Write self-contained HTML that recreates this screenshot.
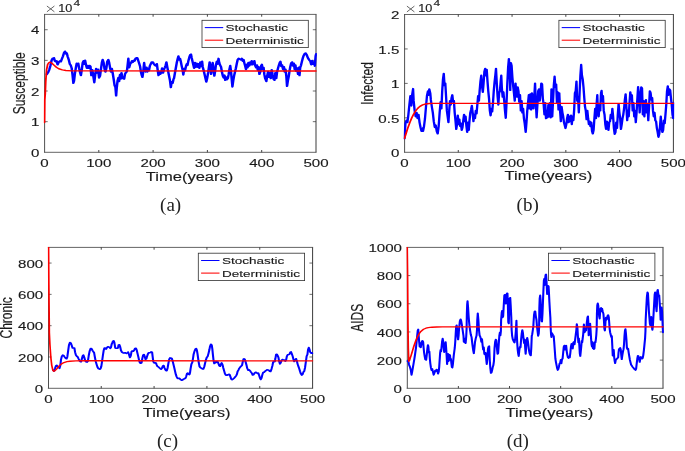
<!DOCTYPE html>
<html><head><meta charset="utf-8"><title>Figure</title>
<style>html,body{margin:0;padding:0;background:#fff;}svg{display:block;}</style></head>
<body>
<svg width="685" height="451" viewBox="0 0 685 451">
<rect x="0" y="0" width="685" height="451" fill="#ffffff"/>
<g id="plot-a">
<clipPath id="clip-a"><rect x="43.60" y="14.00" width="273.30" height="138.70"/></clipPath>
<g stroke="#303030" fill="none">
<line x1="44.0" y1="14.4" x2="316.5" y2="14.4" stroke-width="0.75"/>
<line x1="44.0" y1="152.3" x2="316.5" y2="152.3" stroke-width="0.75"/>
<line x1="44.6" y1="14.4" x2="44.6" y2="152.3" stroke-width="0.85"/>
<line x1="316.0" y1="14.4" x2="316.0" y2="152.3" stroke-width="0.95"/>
<line x1="98.80" y1="152.3" x2="98.80" y2="150.00" stroke-width="0.9"/>
<line x1="98.80" y1="14.4" x2="98.80" y2="16.70" stroke-width="0.9"/>
<line x1="153.10" y1="152.3" x2="153.10" y2="150.00" stroke-width="0.9"/>
<line x1="153.10" y1="14.4" x2="153.10" y2="16.70" stroke-width="0.9"/>
<line x1="207.40" y1="152.3" x2="207.40" y2="150.00" stroke-width="0.9"/>
<line x1="207.40" y1="14.4" x2="207.40" y2="16.70" stroke-width="0.9"/>
<line x1="261.70" y1="152.3" x2="261.70" y2="150.00" stroke-width="0.9"/>
<line x1="261.70" y1="14.4" x2="261.70" y2="16.70" stroke-width="0.9"/>
<line x1="44.5" y1="121.66" x2="47.70" y2="121.66" stroke-width="0.7"/>
<line x1="316.0" y1="121.66" x2="312.80" y2="121.66" stroke-width="0.7"/>
<line x1="44.5" y1="91.01" x2="47.70" y2="91.01" stroke-width="0.7"/>
<line x1="316.0" y1="91.01" x2="312.80" y2="91.01" stroke-width="0.7"/>
<line x1="44.5" y1="60.37" x2="47.70" y2="60.37" stroke-width="0.7"/>
<line x1="316.0" y1="60.37" x2="312.80" y2="60.37" stroke-width="0.7"/>
<line x1="44.5" y1="29.72" x2="47.70" y2="29.72" stroke-width="0.7"/>
<line x1="316.0" y1="29.72" x2="312.80" y2="29.72" stroke-width="0.7"/>
</g>
<g clip-path="url(#clip-a)" fill="none" stroke-linejoin="round" stroke-linecap="round">
<g transform="scale(1.3,1)"><path d="M35.99,74.25L36.91,72.57L37.83,69.94L38.75,65.75L39.68,60.36L40.41,58.57L41.05,59.17L41.52,57.97L42.25,60.96L42.89,61.56L43.54,60.96L44.28,64.55L45.20,62.16L46.12,60.96L46.85,61.56L47.50,59.17L48.42,56.17L49.34,52.58L49.98,51.39L50.72,53.78L51.37,53.18L52.10,56.77L53.02,60.36L53.67,63.95L54.41,65.15L55.14,68.14L55.78,74.73L56.43,83.10L56.98,80.71L57.62,73.53L58.36,67.54L59.01,63.35L59.65,65.15L60.21,63.35L60.85,68.14L61.58,72.33L62.23,75.32L62.88,69.94L63.61,62.76L64.25,60.96L64.72,63.95L65.45,60.36L66.19,65.15L66.83,68.14L67.57,65.75L68.22,68.14L68.95,65.75L69.59,66.35L70.24,75.32L70.98,69.94L71.62,74.73L72.54,82.51L73.28,74.13L73.92,68.74L74.66,72.93L75.39,69.34L76.22,77.72L76.96,75.92L77.70,68.74L78.34,62.76L78.98,59.76L79.72,62.76L80.37,68.74L81.11,71.73L81.84,68.14L82.48,61.56L83.35,59.76L84.00,62.76L84.73,68.14L85.38,71.73L86.02,68.74L86.76,73.53L87.50,79.51L88.14,85.50L88.78,87.29L89.34,95.67L89.80,87.89L90.45,80.71L91.08,77.72L91.64,81.31L92.28,74.73L92.93,78.91L93.48,72.93L94.12,78.32L94.86,77.12L95.51,78.91L96.15,74.13L96.88,72.33L97.53,71.73L98.08,66.35L98.73,58.57L99.37,67.54L100.11,63.95L100.85,62.76L101.49,60.96L102.14,62.16L102.87,60.36L103.52,60.96L104.25,58.57L104.99,57.97L105.63,57.97L106.28,60.36L107.02,63.35L107.75,66.35L108.39,71.73L109.04,75.32L109.59,77.12L110.24,71.13L110.88,62.76L111.43,68.74L112.08,71.73L112.72,67.54L113.28,71.73L113.92,68.74L114.56,70.54L115.30,65.75L116.04,63.95L116.68,62.16L117.60,62.16L118.34,63.95L119.17,65.15L119.91,65.75L120.64,63.95L121.28,69.94L121.93,75.32L122.67,71.73L123.31,74.13L124.05,72.33L124.69,68.14L125.43,72.93L126.16,69.34L126.81,67.54L127.45,65.15L128.01,62.16L128.65,66.95L129.38,71.73L130.03,75.92L130.77,80.71L131.42,87.29L132.05,81.91L132.79,83.10L133.53,78.91L133.85,78.32L134.58,72.93L135.23,68.14L135.96,62.76L136.61,59.17L137.25,56.17L137.81,59.76L138.45,58.57L139.09,61.56L139.83,66.35L140.48,69.94L141.03,74.73L141.67,68.74L142.32,70.54L143.05,66.35L143.70,63.95L144.25,65.15L144.89,60.96L145.63,57.37L146.28,54.98L146.92,54.38L147.47,57.97L148.12,61.56L148.76,65.15L149.32,68.14L149.96,62.76L150.69,66.95L151.34,63.35L151.98,66.95L152.72,63.95L153.36,68.14L154.10,62.16L154.75,66.35L155.48,61.56L155.95,66.95L156.68,70.54L157.32,74.13L157.97,77.72L158.71,81.91L159.35,78.32L160.08,72.93L160.73,66.95L161.28,62.16L161.93,68.14L162.38,74.13L163.03,67.54L163.58,62.76L164.23,69.34L164.88,75.92L165.42,71.73L166.07,65.15L166.81,61.56L167.45,63.95L168.09,58.57L168.65,62.76L169.29,65.15L170.03,66.95L170.68,71.73L171.41,75.92L172.05,77.72L172.70,75.32L173.25,80.11L173.89,77.12L174.54,79.51L175.28,78.32L175.92,74.13L176.48,69.34L177.12,65.75L177.67,71.13L178.22,78.91L178.78,86.69L179.42,80.71L180.06,75.92L180.80,71.73L181.45,68.14L182.18,63.35L182.82,59.76L183.56,58.57L184.30,59.17L184.62,59.17L185.35,59.76L186.00,58.57L186.73,60.96L187.38,59.76L188.02,63.35L188.58,65.75L189.22,69.34L189.86,64.55L190.42,67.54L191.06,62.76L191.71,65.75L192.44,62.16L193.08,64.55L193.64,60.96L194.28,64.55L194.93,62.76L195.66,60.96L196.31,65.75L197.05,67.54L197.69,65.15L198.24,69.94L198.88,66.95L199.53,74.13L200.27,71.73L200.91,65.75L201.46,64.55L202.11,69.34L202.75,67.54L203.31,74.13L203.95,78.32L204.87,81.31L205.52,75.92L206.25,71.73L206.89,77.12L207.63,72.93L208.28,78.32L209.02,69.94L209.66,74.73L210.39,78.91L211.13,80.11L211.78,72.93L212.52,78.32L213.15,71.73L213.89,68.14L214.54,65.15L215.18,62.76L215.73,61.56L216.38,66.35L217.02,65.15L217.76,69.34L218.41,66.95L218.95,71.73L219.60,69.34L220.25,75.92L220.80,86.10L221.45,80.71L222.08,76.52L222.64,71.73L223.28,66.95L223.93,63.35L224.66,62.16L225.31,65.75L226.05,63.35L226.69,69.34L227.25,65.15L227.88,71.13L228.53,68.14L229.27,74.13L229.92,67.54L230.38,75.32L230.92,67.54L231.57,65.15L232.22,61.56L232.95,57.97L233.59,55.58L234.33,53.78L235.07,53.18L235.85,54.63L236.87,57.95L237.89,59.95L238.71,61.28L239.42,64.60L240.14,60.61L240.95,63.94L241.68,61.94L242.18,65.93L242.80,55.96L243.21,53.96" stroke="#0000ff" stroke-width="1.9"/></g>
<g transform="scale(1.3,1)"><path d="M34.24,122.60L34.42,99.98L34.79,93.88L35.16,81.91L35.81,69.94L36.64,64.55L37.55,62.76L38.48,62.16L39.68,63.00L41.52,65.15L43.35,67.30L45.20,68.74L47.96,69.94L50.72,70.54L55.32,70.90L69.14,70.90L243.08,70.95" stroke="#ff0000" stroke-width="1.4"/></g>
</g>
<rect x="202.0" y="20.3" width="106.30" height="27.30" fill="#ffffff" stroke="#303030" stroke-width="0.8"/>
<line x1="204.80" y1="27.60" x2="223.20" y2="27.60" stroke="#0000ff" stroke-width="1.05"/>
<line x1="204.80" y1="40.20" x2="223.20" y2="40.20" stroke="#ff0000" stroke-width="1.05"/>
</g>
<g id="plot-b">
<clipPath id="clip-b"><rect x="403.60" y="14.10" width="270.70" height="138.60"/></clipPath>
<g stroke="#303030" fill="none">
<line x1="404.0" y1="14.5" x2="673.9" y2="14.5" stroke-width="0.75"/>
<line x1="404.0" y1="152.3" x2="673.9" y2="152.3" stroke-width="0.75"/>
<line x1="404.6" y1="14.5" x2="404.6" y2="152.3" stroke-width="0.85"/>
<line x1="673.4" y1="14.5" x2="673.4" y2="152.3" stroke-width="0.95"/>
<line x1="458.28" y1="152.3" x2="458.28" y2="150.00" stroke-width="0.9"/>
<line x1="458.28" y1="14.5" x2="458.28" y2="16.80" stroke-width="0.9"/>
<line x1="512.06" y1="152.3" x2="512.06" y2="150.00" stroke-width="0.9"/>
<line x1="512.06" y1="14.5" x2="512.06" y2="16.80" stroke-width="0.9"/>
<line x1="565.84" y1="152.3" x2="565.84" y2="150.00" stroke-width="0.9"/>
<line x1="565.84" y1="14.5" x2="565.84" y2="16.80" stroke-width="0.9"/>
<line x1="619.62" y1="152.3" x2="619.62" y2="150.00" stroke-width="0.9"/>
<line x1="619.62" y1="14.5" x2="619.62" y2="16.80" stroke-width="0.9"/>
<line x1="404.5" y1="117.85" x2="407.70" y2="117.85" stroke-width="0.7"/>
<line x1="673.4" y1="117.85" x2="670.20" y2="117.85" stroke-width="0.7"/>
<line x1="404.5" y1="83.40" x2="407.70" y2="83.40" stroke-width="0.7"/>
<line x1="673.4" y1="83.40" x2="670.20" y2="83.40" stroke-width="0.7"/>
<line x1="404.5" y1="48.95" x2="407.70" y2="48.95" stroke-width="0.7"/>
<line x1="673.4" y1="48.95" x2="670.20" y2="48.95" stroke-width="0.7"/>
</g>
<g clip-path="url(#clip-b)" fill="none" stroke-linejoin="round" stroke-linecap="round">
<g transform="scale(1.3,1)"><path d="M311.15,138.38L311.45,132.12L311.90,123.34L312.65,120.41L313.40,122.36L314.15,114.55L314.91,104.78L315.65,95.99L316.41,105.76L317.01,95.02L317.76,88.77L318.21,100.88L318.96,110.64L319.71,116.50L320.46,112.59L321.22,118.45L321.96,114.55L322.72,122.36L323.47,127.24L324.22,131.15L324.97,128.22L325.42,131.15L326.17,126.27L326.92,118.45L327.68,106.73L328.42,95.99L329.18,91.11L329.78,95.02L330.23,89.16L330.98,93.06L331.43,99.90L332.18,106.73L332.93,112.59L333.68,121.38L334.44,127.24L335.18,125.29L335.94,131.15L336.69,133.69L337.44,126.27L338.19,112.59L338.94,101.85L339.55,108.69L340.15,91.11L340.75,79.39L341.35,73.53L341.95,85.25L342.55,83.30L343.15,96.97L343.75,110.64L344.35,116.50L344.95,122.36L345.55,110.64L346.15,100.88L346.75,104.78L347.35,97.95L347.95,95.02L348.55,101.85L349.16,100.88L349.76,112.59L350.36,120.41L350.96,129.20L351.56,124.31L352.16,115.52L352.76,124.31L353.37,119.43L353.97,126.27L354.57,123.34L355.17,130.17L355.77,127.24L356.37,120.41L356.97,114.55L357.57,121.38L358.17,116.50L358.78,126.27L359.38,132.12L359.98,122.36L360.58,130.17L361.18,120.41L361.78,112.59L362.38,109.66L362.98,105.76L363.58,112.59L364.18,121.38L364.78,114.55L365.38,118.45L365.98,110.64L366.58,113.57L367.18,104.78L367.78,95.99L368.39,100.88L368.99,90.13L369.59,81.34L370.19,75.48L370.79,86.23L371.39,92.09L371.99,83.30L372.60,71.58L373.20,68.65L373.80,75.48L374.40,69.62L375.00,81.34L375.60,91.11L376.20,98.92L376.80,110.64L377.40,115.52L378.01,108.69L378.61,111.62L379.21,102.83L379.81,91.11L380.41,82.32L381.01,75.48L381.54,68.65L382.14,83.30L382.74,95.99L383.34,104.78L383.94,93.06L384.55,91.11L385.15,81.34L385.59,75.48L386.05,88.18L386.65,96.97L387.25,92.09L387.85,100.88L388.45,110.64L389.05,118.06L389.65,102.83L390.25,83.30L390.85,67.67L391.45,58.88L392.05,69.62L392.51,90.13L392.95,62.79L393.55,65.72L394.16,77.44L394.76,86.23L395.36,93.06L395.96,100.88L396.56,83.30L397.16,93.06L397.76,96.97L398.22,87.20L398.82,91.11L399.42,101.85L400.02,95.02L400.62,110.64L401.22,100.88L401.82,112.59L402.42,108.69L403.02,118.45L403.62,123.34L404.38,132.12L404.98,122.36L405.58,110.64L406.18,102.83L406.78,95.02L407.38,108.69L407.98,94.04L408.58,109.66L409.18,93.06L409.78,100.88L410.38,108.69L410.98,96.97L411.58,83.30L412.18,102.83L412.78,117.48L413.39,104.78L413.99,91.11L414.59,89.16L415.19,100.88L415.79,93.06L416.39,83.30L416.99,84.27L417.60,98.92L418.20,104.78L418.80,114.55L419.40,102.83L420.00,118.45L420.60,110.64L421.20,117.48L421.80,104.78L422.40,116.50L423.01,102.83L423.61,117.48L424.21,89.16L424.81,116.50L425.41,100.88L426.01,85.25L426.61,76.46L427.22,87.20L427.82,84.27L428.42,102.83L429.02,92.09L429.62,109.66L430.22,93.06L430.82,110.64L431.42,121.38L432.02,106.73L432.62,112.59L433.22,116.50L433.82,122.36L434.42,125.29L435.02,128.22L435.62,124.31L436.22,118.45L436.83,114.55L437.43,122.36L438.03,116.50L438.63,121.38L439.23,115.52L439.83,124.31L440.43,116.50L441.03,120.41L441.63,110.64L442.24,93.06L442.84,91.11L443.44,81.34L444.04,100.88L444.64,96.97L445.24,112.59L445.84,93.06L446.45,75.48L447.05,64.74L447.65,75.48L448.25,79.39L448.85,87.20L449.45,97.95L450.00,106.73L450.60,110.64L451.20,119.43L451.80,110.64L452.40,118.45L453.01,124.31L453.61,121.38L454.21,126.27L454.81,122.36L455.41,131.15L456.01,133.69L456.61,130.17L457.22,118.45L457.82,108.69L458.42,118.45L459.02,102.83L459.46,95.02L459.92,112.59L460.52,116.50L461.12,104.78L461.72,110.64L462.32,93.06L462.77,90.72L463.22,100.88L463.82,95.99L464.42,110.64L465.02,114.55L465.62,124.31L466.22,129.20L466.83,121.38L467.43,124.31L468.03,130.17L468.63,122.36L469.23,121.38L469.83,114.55L470.43,118.45L471.03,108.69L471.63,116.50L472.24,128.22L472.84,134.08L473.44,132.12L474.04,122.36L474.64,128.22L475.24,114.55L475.84,103.80L476.45,112.59L477.05,118.45L477.65,129.20L478.25,124.31L478.85,118.45L479.45,114.55L480.05,108.69L480.65,99.90L481.25,94.04L481.85,106.73L482.45,120.41L483.05,110.64L483.65,116.50L484.25,102.83L484.85,92.09L485.45,97.95L486.06,95.02L486.66,110.64L487.26,102.83L487.86,116.50L488.46,110.64L489.06,122.36L489.66,112.59L490.26,98.92L490.86,86.81L491.47,98.92L492.07,112.59L492.67,95.02L493.27,87.20L493.87,88.18L494.47,114.55L495.07,100.88L495.68,116.50L496.28,102.83L496.88,99.90L497.48,112.59L498.08,104.78L498.68,120.41L499.28,106.73L499.88,91.11L500.48,93.06L501.08,99.90L501.68,97.95L502.28,110.64L502.88,116.50L503.48,112.59L504.08,120.41L504.68,121.38L505.29,128.22L505.89,132.12L506.49,137.01L507.09,134.08L507.69,126.27L508.29,116.50L508.89,126.27L509.49,132.12L510.09,130.17L510.70,120.41L511.30,123.34L511.90,114.55L512.50,104.78L513.10,91.11L513.70,86.23L514.30,95.02L514.91,89.16L515.51,90.13L516.11,97.95L516.71,104.78L517.31,114.55L517.91,118.45L518.06,102.83" stroke="#0000ff" stroke-width="1.8"/></g>
<g transform="scale(1.3,1)"><path d="M311.15,138.40L312.23,134.00L313.54,128.60L315.23,122.60L316.69,118.00L318.15,114.20L319.69,111.00L321.23,108.50L322.77,106.60L325.08,104.90L327.38,104.00L330.23,103.50L333.08,103.40L518.00,103.40" stroke="#ff0000" stroke-width="1.4"/></g>
</g>
<rect x="558.9" y="20.3" width="106.30" height="27.30" fill="#ffffff" stroke="#303030" stroke-width="0.8"/>
<line x1="561.70" y1="27.60" x2="580.10" y2="27.60" stroke="#0000ff" stroke-width="1.05"/>
<line x1="561.70" y1="40.20" x2="580.10" y2="40.20" stroke="#ff0000" stroke-width="1.05"/>
</g>
<g id="plot-c">
<clipPath id="clip-c"><rect x="47.50" y="247.00" width="266.00" height="141.70"/></clipPath>
<g stroke="#303030" fill="none">
<line x1="47.9" y1="247.4" x2="313.1" y2="247.4" stroke-width="0.75"/>
<line x1="47.9" y1="388.3" x2="313.1" y2="388.3" stroke-width="0.75"/>
<line x1="48.5" y1="247.4" x2="48.5" y2="388.3" stroke-width="0.85"/>
<line x1="312.6" y1="247.4" x2="312.6" y2="388.3" stroke-width="0.95"/>
<line x1="101.24" y1="388.3" x2="101.24" y2="386.00" stroke-width="0.9"/>
<line x1="101.24" y1="247.4" x2="101.24" y2="249.70" stroke-width="0.9"/>
<line x1="154.08" y1="388.3" x2="154.08" y2="386.00" stroke-width="0.9"/>
<line x1="154.08" y1="247.4" x2="154.08" y2="249.70" stroke-width="0.9"/>
<line x1="206.92" y1="388.3" x2="206.92" y2="386.00" stroke-width="0.9"/>
<line x1="206.92" y1="247.4" x2="206.92" y2="249.70" stroke-width="0.9"/>
<line x1="259.76" y1="388.3" x2="259.76" y2="386.00" stroke-width="0.9"/>
<line x1="259.76" y1="247.4" x2="259.76" y2="249.70" stroke-width="0.9"/>
<line x1="48.4" y1="356.99" x2="51.60" y2="356.99" stroke-width="0.7"/>
<line x1="312.6" y1="356.99" x2="309.40" y2="356.99" stroke-width="0.7"/>
<line x1="48.4" y1="325.68" x2="51.60" y2="325.68" stroke-width="0.7"/>
<line x1="312.6" y1="325.68" x2="309.40" y2="325.68" stroke-width="0.7"/>
<line x1="48.4" y1="294.37" x2="51.60" y2="294.37" stroke-width="0.7"/>
<line x1="312.6" y1="294.37" x2="309.40" y2="294.37" stroke-width="0.7"/>
<line x1="48.4" y1="263.06" x2="51.60" y2="263.06" stroke-width="0.7"/>
<line x1="312.6" y1="263.06" x2="309.40" y2="263.06" stroke-width="0.7"/>
</g>
<g clip-path="url(#clip-c)" fill="none" stroke-linejoin="round" stroke-linecap="round">
<g transform="scale(1.3,1)"><path d="M40.91,370.34L41.46,371.06L42.29,368.55L43.02,365.91L43.67,365.32L44.32,366.51L45.05,367.11L45.78,368.31L46.43,365.32L46.89,359.93L47.54,356.34L48.28,355.14L49.01,355.74L49.65,356.94L50.39,358.13L51.22,358.73L51.77,356.94L52.42,350.95L53.06,344.97L53.80,342.58L54.54,343.17L55.18,345.57L55.82,347.96L56.56,347.96L57.21,347.96L57.75,352.15L58.40,355.14L59.14,356.34L59.78,356.94L60.43,358.73L61.16,360.53L61.81,361.73L62.36,361.73L63.01,358.73L63.65,355.74L64.20,355.14L64.85,357.54L65.49,360.53L66.23,361.73L66.96,362.08L67.61,361.13L68.25,355.74L68.99,350.95L69.72,348.56L70.37,348.56L71.11,350.35L71.75,351.55L72.39,352.75L72.95,356.94L73.59,361.13L74.24,364.12L74.98,367.11L75.71,368.67L76.54,369.15L77.28,368.91L77.92,366.51L78.47,361.73L79.12,355.74L79.76,350.35L80.32,347.96L80.96,347.96L81.60,349.16L82.15,347.96L82.80,346.76L83.45,346.76L84.18,347.36L84.82,348.32L85.38,347.36L85.93,343.77L86.15,343.77L86.80,341.38L87.45,340.78L87.99,342.58L88.64,347.96L89.38,348.32L90.12,348.20L90.75,347.96L91.22,344.97L91.86,344.73L92.42,346.76L93.06,350.35L93.79,352.15L94.62,352.75L95.36,353.11L96.28,352.75L97.20,353.35L97.94,352.75L98.58,352.15L99.23,354.54L99.96,357.54L100.61,355.74L101.16,351.55L101.81,350.95L102.54,351.19L103.18,350.35L103.83,348.56L104.57,348.32L105.22,350.35L105.76,353.35L106.41,356.94L107.05,360.53L107.61,362.92L108.25,363.28L108.89,362.92L109.45,358.73L110.09,355.14L110.74,354.54L111.29,356.34L111.93,359.33L112.58,358.73L113.13,356.34L113.78,353.95L114.42,352.75L115.15,352.75L115.80,352.39L116.35,351.91L117.00,352.15L117.45,356.94L117.92,361.73L118.56,362.92L119.30,362.68L119.95,362.92L120.49,364.72L121.14,366.51L121.88,366.87L122.52,367.71L123.25,368.55L123.90,369.15L124.55,368.31L125.28,365.91L125.93,365.56L126.48,367.71L127.12,369.51L127.77,370.70L128.32,370.70L128.97,367.71L129.61,362.92L130.16,359.33L130.81,357.90L131.55,358.13L132.18,358.49L132.83,361.13L133.38,364.12L134.03,367.71L134.68,371.30L135.22,374.29L135.87,376.69L136.61,378.48L136.92,378.48L137.66,378.24L138.31,378.72L139.04,379.68L139.68,380.28L140.42,379.92L141.25,379.08L141.98,378.72L142.63,378.24L143.18,376.69L143.83,373.69L144.47,373.10L145.02,374.29L145.67,374.65L146.13,373.10L146.59,368.91L147.24,364.12L147.97,362.32L148.43,358.73L148.89,354.54L149.54,351.55L150.27,349.16L150.92,348.56L151.47,350.35L151.93,353.95L152.39,358.13L152.85,362.32L153.49,366.51L154.23,367.71L155.06,368.31L155.80,368.91L156.44,368.91L157.18,366.51L157.82,362.92L158.38,359.93L159.02,357.54L159.75,356.34L160.40,353.35L161.05,349.76L161.60,346.17L162.24,344.37L162.88,344.97L163.35,349.16L163.81,355.14L164.27,360.53L164.82,363.52L165.46,362.92L166.11,361.73L166.85,362.32L167.49,361.73L168.04,363.52L168.68,365.91L169.33,366.27L169.88,364.36L170.53,362.92L171.17,364.72L171.72,367.71L172.37,370.70L173.02,373.69L173.75,375.13L174.48,375.13L175.32,374.89L176.05,374.29L176.70,374.65L177.25,376.69L177.89,379.08L178.54,379.68L179.28,379.08L180.01,378.24L180.84,377.05L181.58,375.85L182.22,374.29L182.78,371.30L183.42,370.10L184.06,368.31L184.80,367.11L185.45,366.27L186.18,365.32L186.64,362.32L187.28,359.09L187.69,358.73L188.34,359.33L188.89,361.73L189.53,364.72L190.18,368.31L190.92,370.10L191.56,369.86L192.29,370.70L192.94,371.90L193.68,373.10L194.32,374.89L195.06,374.65L195.79,373.10L196.62,372.26L197.36,372.74L198.09,373.45L198.74,373.10L199.38,375.49L199.94,377.88L200.58,379.44L201.22,377.88L201.78,374.89L202.42,372.50L203.16,372.26L203.81,371.30L204.54,370.70L205.37,369.86L206.11,370.10L206.85,370.34L207.48,371.30L208.13,371.54L208.87,368.91L209.52,365.91L210.06,362.32L210.71,361.37L211.35,361.73L211.82,358.73L212.37,354.54L213.01,354.30L213.65,355.74L214.21,357.54L214.67,361.13L215.32,363.88L215.95,362.92L216.51,360.53L217.15,359.57L217.89,359.81L218.72,359.93L219.45,361.13L220.10,359.93L220.65,356.34L221.30,354.78L222.03,354.54L222.68,354.30L223.32,352.15L223.88,351.91L224.52,353.95L225.16,356.34L225.72,359.33L226.36,361.49L227.01,359.93L227.74,358.73L228.38,361.13L228.94,364.12L229.58,366.51L230.23,368.91L230.78,371.30L231.42,373.69L232.16,375.13L232.81,374.29L233.45,371.90L234.00,371.30L234.65,367.71L235.29,361.73L235.85,356.34L236.49,354.54L236.95,349.76L237.50,347.60L238.05,349.16L238.61,352.15L239.25,353.11L239.98,352.75L240.26,353.35" stroke="#0000ff" stroke-width="1.6"/></g>
<g transform="scale(1.3,1)"><path d="M37.32,237.25L37.59,285.12L37.96,333.00L38.42,344.97L39.07,356.94L39.81,365.32L40.63,370.10L41.46,371.30L42.29,370.70L43.67,368.91L45.52,365.91L47.35,363.88L49.19,362.56L51.50,361.73L53.80,361.25L58.40,360.89L63.01,360.77L81.42,360.77L240.46,360.80" stroke="#ff0000" stroke-width="1.3"/></g>
</g>
<rect x="198.3" y="253.2" width="106.30" height="27.40" fill="#ffffff" stroke="#303030" stroke-width="0.8"/>
<line x1="201.10" y1="260.50" x2="219.50" y2="260.50" stroke="#0000ff" stroke-width="1.05"/>
<line x1="201.10" y1="273.10" x2="219.50" y2="273.10" stroke="#ff0000" stroke-width="1.05"/>
</g>
<g id="plot-d">
<clipPath id="clip-d"><rect x="406.30" y="247.00" width="257.60" height="141.70"/></clipPath>
<g stroke="#303030" fill="none">
<line x1="406.7" y1="247.4" x2="663.5" y2="247.4" stroke-width="0.75"/>
<line x1="406.7" y1="388.3" x2="663.5" y2="388.3" stroke-width="0.75"/>
<line x1="407.3" y1="247.4" x2="407.3" y2="388.3" stroke-width="0.85"/>
<line x1="663.0" y1="247.4" x2="663.0" y2="388.3" stroke-width="0.95"/>
<line x1="458.36" y1="388.3" x2="458.36" y2="386.00" stroke-width="0.9"/>
<line x1="458.36" y1="247.4" x2="458.36" y2="249.70" stroke-width="0.9"/>
<line x1="509.52" y1="388.3" x2="509.52" y2="386.00" stroke-width="0.9"/>
<line x1="509.52" y1="247.4" x2="509.52" y2="249.70" stroke-width="0.9"/>
<line x1="560.68" y1="388.3" x2="560.68" y2="386.00" stroke-width="0.9"/>
<line x1="560.68" y1="247.4" x2="560.68" y2="249.70" stroke-width="0.9"/>
<line x1="611.84" y1="388.3" x2="611.84" y2="386.00" stroke-width="0.9"/>
<line x1="611.84" y1="247.4" x2="611.84" y2="249.70" stroke-width="0.9"/>
<line x1="407.2" y1="360.12" x2="410.40" y2="360.12" stroke-width="0.7"/>
<line x1="663.0" y1="360.12" x2="659.80" y2="360.12" stroke-width="0.7"/>
<line x1="407.2" y1="331.94" x2="410.40" y2="331.94" stroke-width="0.7"/>
<line x1="663.0" y1="331.94" x2="659.80" y2="331.94" stroke-width="0.7"/>
<line x1="407.2" y1="303.76" x2="410.40" y2="303.76" stroke-width="0.7"/>
<line x1="663.0" y1="303.76" x2="659.80" y2="303.76" stroke-width="0.7"/>
<line x1="407.2" y1="275.58" x2="410.40" y2="275.58" stroke-width="0.7"/>
<line x1="663.0" y1="275.58" x2="659.80" y2="275.58" stroke-width="0.7"/>
</g>
<g clip-path="url(#clip-d)" fill="none" stroke-linejoin="round" stroke-linecap="round">
<g transform="scale(1.3,1)"><path d="M313.31,361.10L314.08,361.10L314.64,364.69L315.37,367.09L316.02,370.08L316.57,374.87L317.03,371.88L317.49,368.28L318.14,363.50L318.78,358.71L319.33,353.92L319.98,347.94L320.44,341.95L320.90,335.97L321.35,330.58L321.72,329.39L322.09,335.97L322.46,341.95L322.83,346.74L323.29,343.15L323.66,347.34L324.12,344.35L324.58,341.35L325.04,340.76L325.50,341.95L325.87,347.94L326.24,352.73L326.70,356.32L327.15,359.31L327.80,359.91L328.26,355.12L328.72,349.13L329.18,344.95L329.55,346.74L329.92,352.73L330.28,351.53L330.65,358.71L331.02,363.50L331.48,367.69L331.95,370.08L332.50,368.88L333.05,371.88L333.60,374.87L334.15,373.07L334.71,370.68L335.26,371.28L335.82,369.48L336.36,370.08L336.92,373.67L337.47,371.88L337.84,367.09L338.21,359.91L338.58,352.73L338.94,349.73L339.31,351.53L339.68,346.74L340.05,341.95L340.51,338.60L340.97,341.95L341.34,347.94L341.71,352.13L342.07,350.33L342.44,344.35L342.81,341.95L343.18,347.94L343.55,355.12L343.92,364.10L344.28,358.71L344.65,353.92L345.02,361.10L345.38,354.52L345.75,359.91L346.12,355.12L346.49,359.91L346.86,358.71L347.23,363.50L347.60,367.09L347.96,367.69L348.33,364.69L348.70,359.91L349.07,355.12L349.44,351.53L349.81,347.94L350.18,341.95L350.55,333.58L350.91,326.39L351.28,325.20L351.65,329.98L352.02,335.97L352.38,339.56L352.75,335.97L353.12,328.79L353.76,321.07L354.32,319.28L354.78,321.07L355.24,324.66L355.88,329.98L356.53,335.97L356.80,341.95L357.26,338.36L357.72,342.55L358.18,343.15L358.65,335.97L358.92,328.79L359.11,313.89L359.38,304.32L359.65,301.08L360.02,306.71L360.48,316.28L360.95,323.47L361.54,329.98L362.18,334.77L362.74,337.17L363.38,344.35L364.02,350.33L364.48,353.32L364.95,347.94L365.41,341.95L365.96,338.36L366.60,335.37L366.97,328.79L367.15,319.88L367.52,313.29L367.98,319.88L368.45,329.98L368.91,335.37L369.36,336.57L369.82,338.36L370.28,341.95L370.75,338.96L371.21,344.95L371.67,349.73L372.12,347.34L372.58,353.92L373.05,354.52L373.51,352.73L373.97,358.71L374.43,364.10L374.88,358.71L375.35,349.13L375.81,346.74L376.27,346.14L376.73,359.91L377.19,368.28L377.65,373.07L378.11,372.47L378.57,370.08L379.03,367.09L379.49,365.29L379.95,361.10L380.42,347.94L380.87,341.95L381.33,339.56L381.79,340.16L382.25,347.94L382.72,353.92L383.18,353.32L383.64,344.35L384.09,335.97L384.55,332.38L384.92,335.37L385.29,331.18L385.48,319.88L385.94,312.69L386.22,310.90L386.58,317.48L387.04,316.28L387.50,305.51L387.96,295.34L388.33,294.74L388.70,303.12L389.16,303.72L389.53,295.34L389.89,293.54L390.35,293.30L390.63,301.92L391.00,322.27L391.37,323.47L391.74,307.91L392.11,298.33L392.48,297.73L392.84,305.51L393.30,317.48L393.58,329.98L393.95,335.97L394.50,339.56L395.15,341.35L395.78,342.55L396.34,338.36L396.80,331.18L397.26,320.47L397.54,333.58L397.82,341.95L398.18,349.13L398.64,353.92L399.01,356.08L399.47,350.33L399.93,346.74L400.39,347.34L400.85,339.56L401.32,333.58L401.77,329.98L402.23,332.98L402.69,338.36L403.15,343.15L403.62,339.56L403.98,347.94L404.35,353.92L404.72,347.94L405.08,340.76L405.55,337.76L406.01,340.76L406.47,345.54L406.93,350.33L407.39,353.32L407.85,354.88L408.31,355.36L408.68,347.94L409.05,335.97L409.42,334.17L409.88,329.98L410.25,326.39L410.42,322.27L410.79,315.09L411.25,311.50L411.72,311.26L412.18,316.28L412.68,319.88L413.05,326.39L413.51,331.18L413.96,335.97L414.42,333.58L414.70,327.59L414.88,307.91L415.16,298.33L415.53,295.34L415.81,299.53L416.18,311.50L416.55,321.07L416.91,321.67L417.28,313.89L417.65,301.92L418.02,289.95L418.38,280.38L418.75,278.58L419.03,285.17L419.31,279.18L419.68,274.99L420.04,274.39L420.32,279.18L420.59,286.36L420.87,294.14L421.24,287.56L421.61,285.76L421.98,286.36L422.25,292.35L422.62,301.92L422.98,310.30L423.35,317.48L423.63,328.79L423.91,334.77L424.18,337.17L424.55,332.98L425.02,334.17L425.48,335.37L425.93,335.97L426.30,341.95L426.76,350.33L427.22,358.71L427.68,362.30L428.15,365.29L428.60,368.28L429.06,370.08L429.52,368.88L429.98,366.49L430.45,363.50L430.91,362.90L431.37,359.91L431.82,363.50L432.28,359.31L432.75,358.71L433.21,352.73L433.67,346.74L434.13,345.54L434.58,349.73L435.05,346.14L435.51,345.54L435.97,351.53L436.43,355.12L436.89,357.51L437.35,358.11L437.81,356.32L438.27,357.51L438.73,352.73L439.19,346.74L439.65,343.75L440.12,347.94L440.57,348.54L441.03,342.55L441.49,341.95L441.95,344.35L442.42,339.56L442.88,334.77L443.34,329.98L443.70,324.06L444.16,327.59L444.53,335.97L444.90,342.55L445.27,338.36L445.64,345.54L446.01,353.32L446.37,356.08L446.74,351.53L447.11,346.74L447.48,340.76L447.85,342.55L448.22,338.36L448.58,334.77L448.86,329.98L449.14,324.42L449.68,332.38L450.05,331.18L450.42,328.79L450.79,330.58L451.16,326.39L451.44,322.27L451.90,317.48L452.26,316.28L452.54,322.27L452.82,335.37L453.18,333.58L453.55,327.59L453.92,323.47L454.29,329.98L454.66,338.36L455.03,344.35L455.39,346.74L455.76,341.95L456.13,348.54L456.50,343.15L456.87,349.13L457.24,348.54L457.61,341.95L457.98,342.55L458.34,339.56L458.71,334.77L458.98,328.79L459.17,313.89L459.45,305.51L459.82,303.36L460.18,305.51L460.55,311.50L460.92,316.28L461.28,318.68L461.65,311.50L462.02,308.51L462.39,307.91L462.76,311.50L463.08,308.51L463.63,311.50L464.18,313.89L464.55,319.88L464.92,328.79L465.28,330.58L465.56,326.39L465.84,319.88L466.12,317.48L466.58,319.88L466.95,318.68L467.41,315.69L467.86,315.09L468.32,317.48L468.60,322.27L468.97,328.79L469.34,332.38L469.80,334.77L470.26,337.17L470.62,335.97L470.99,345.54L471.36,355.72L471.73,352.73L472.10,349.73L472.47,357.51L472.84,361.10L473.21,363.26L473.66,359.91L474.12,359.31L474.58,358.71L475.05,358.11L475.51,357.51L475.78,352.73L476.15,349.13L476.61,348.54L477.07,347.94L477.53,349.73L477.90,355.12L478.27,359.31L478.73,355.12L479.19,351.53L479.65,349.13L480.02,344.35L480.38,335.97L480.75,330.58L481.12,329.03L481.49,333.58L481.86,339.56L482.23,347.94L482.68,349.13L483.15,348.54L483.61,352.73L484.07,356.32L484.53,359.91L484.99,362.30L485.45,364.69L486.09,365.89L486.74,367.09L487.38,368.05L488.12,369.24L488.85,370.08L489.32,368.88L489.78,363.50L490.24,358.71L490.70,355.72L491.16,356.32L491.62,358.71L492.08,362.06L492.54,358.71L493.00,356.91L493.46,358.11L493.92,358.71L494.38,358.11L494.84,355.12L495.30,350.33L495.76,344.35L496.22,338.36L496.50,331.18L496.68,319.88L497.14,307.91L497.60,297.13L498.06,292.35L498.43,293.54L498.80,301.92L499.17,311.50L499.54,317.48L499.91,323.47L500.27,325.26L500.64,318.08L500.92,316.88L501.19,321.07L501.56,327.59L501.84,329.98L502.21,326.39L502.48,319.88L502.85,311.50L503.22,303.12L503.58,294.74L503.95,292.35L504.32,295.94L504.69,306.71L505.06,311.50L505.34,304.32L505.62,291.15L505.98,289.71L506.35,293.54L506.72,295.94L507.08,295.34L507.45,303.12L507.82,309.10L508.19,319.88L508.56,312.69L508.93,307.31L509.29,311.50L509.66,322.27L509.85,328.79L510.03,332.38" stroke="#0000ff" stroke-width="1.6"/></g>
<g transform="scale(1.3,1)"><path d="M313.25,247.40L313.53,276.12L313.81,324.00L314.08,347.94L314.45,361.34L315.28,359.19L316.20,355.60L317.12,351.65L318.41,346.02L319.79,341.00L321.17,336.69L322.55,333.46L323.94,331.18L325.78,329.27L327.62,328.19L329.46,327.59L332.22,327.23L335.91,326.99L340.23,326.87L356.80,326.87L510.00,326.87" stroke="#ff0000" stroke-width="1.3"/></g>
</g>
<rect x="548.6" y="253.2" width="106.30" height="27.40" fill="#ffffff" stroke="#303030" stroke-width="0.8"/>
<line x1="551.40" y1="260.50" x2="569.80" y2="260.50" stroke="#0000ff" stroke-width="1.05"/>
<line x1="551.40" y1="273.10" x2="569.80" y2="273.10" stroke="#ff0000" stroke-width="1.05"/>
</g>
<g id="labels" style="filter:grayscale(1)">
<text transform="translate(44.50,167.20) scale(1.45,1)" font-family="'Liberation Sans', sans-serif" font-size="10.4" text-anchor="middle" fill="#1a1a1a" stroke="#1a1a1a" stroke-width="0.13" >0</text>
<text transform="translate(98.80,167.20) scale(1.45,1)" font-family="'Liberation Sans', sans-serif" font-size="10.4" text-anchor="middle" fill="#1a1a1a" stroke="#1a1a1a" stroke-width="0.13" >100</text>
<text transform="translate(153.10,167.20) scale(1.45,1)" font-family="'Liberation Sans', sans-serif" font-size="10.4" text-anchor="middle" fill="#1a1a1a" stroke="#1a1a1a" stroke-width="0.13" >200</text>
<text transform="translate(207.40,167.20) scale(1.45,1)" font-family="'Liberation Sans', sans-serif" font-size="10.4" text-anchor="middle" fill="#1a1a1a" stroke="#1a1a1a" stroke-width="0.13" >300</text>
<text transform="translate(261.70,167.20) scale(1.45,1)" font-family="'Liberation Sans', sans-serif" font-size="10.4" text-anchor="middle" fill="#1a1a1a" stroke="#1a1a1a" stroke-width="0.13" >400</text>
<text transform="translate(316.00,167.20) scale(1.45,1)" font-family="'Liberation Sans', sans-serif" font-size="10.4" text-anchor="middle" fill="#1a1a1a" stroke="#1a1a1a" stroke-width="0.13" >500</text>
<text transform="translate(39.30,157.00) scale(1.45,1)" font-family="'Liberation Sans', sans-serif" font-size="10.4" text-anchor="end" fill="#1a1a1a" stroke="#1a1a1a" stroke-width="0.13" >0</text>
<text transform="translate(39.30,126.36) scale(1.45,1)" font-family="'Liberation Sans', sans-serif" font-size="10.4" text-anchor="end" fill="#1a1a1a" stroke="#1a1a1a" stroke-width="0.13" >1</text>
<text transform="translate(39.30,95.71) scale(1.45,1)" font-family="'Liberation Sans', sans-serif" font-size="10.4" text-anchor="end" fill="#1a1a1a" stroke="#1a1a1a" stroke-width="0.13" >2</text>
<text transform="translate(39.30,65.07) scale(1.45,1)" font-family="'Liberation Sans', sans-serif" font-size="10.4" text-anchor="end" fill="#1a1a1a" stroke="#1a1a1a" stroke-width="0.13" >3</text>
<text transform="translate(39.30,34.42) scale(1.45,1)" font-family="'Liberation Sans', sans-serif" font-size="10.4" text-anchor="end" fill="#1a1a1a" stroke="#1a1a1a" stroke-width="0.13" >4</text>
<path d="M46.90,6.00L54.40,11.80M54.40,6.00L46.90,11.80" stroke="#333" stroke-width="0.75" fill="none"/>
<text transform="translate(58.20,11.50) scale(1.22,1)" font-family="'Liberation Sans', sans-serif" font-size="10.4" text-anchor="start" fill="#1a1a1a" stroke="#1a1a1a" stroke-width="0.13" >10</text>
<text transform="translate(73.60,6.10) scale(1.4,1)" font-family="'Liberation Sans', sans-serif" font-size="8.528" text-anchor="start" fill="#1a1a1a" stroke="#1a1a1a" stroke-width="0.13" >4</text>
<text transform="translate(189.55,180.80) scale(1.38,1)" font-family="'Liberation Sans', sans-serif" font-size="12.0" text-anchor="middle" fill="#1a1a1a" stroke="#1a1a1a" stroke-width="0.13" >Time(years)</text>
<text transform="translate(24.60,83.35) rotate(-90) scale(1,1.38)" font-family="'Liberation Sans', sans-serif" font-size="12.0" text-anchor="middle" fill="#1a1a1a" stroke="#1a1a1a" stroke-width="0.13" >Susceptible</text>
<text transform="translate(170.60,210.50) scale(1.0,1)" font-family="'Liberation Serif', serif" font-size="19" text-anchor="middle" fill="#222" >(a)</text>
<text transform="translate(225.60,31.40) scale(1.38,1)" font-family="'Liberation Sans', sans-serif" font-size="9.8" text-anchor="start" fill="#1a1a1a" stroke="#1a1a1a" stroke-width="0.13" >Stochastic</text>
<text transform="translate(225.60,43.80) scale(1.38,1)" font-family="'Liberation Sans', sans-serif" font-size="9.8" text-anchor="start" fill="#1a1a1a" stroke="#1a1a1a" stroke-width="0.13" >Deterministic</text>
<text transform="translate(404.50,167.20) scale(1.45,1)" font-family="'Liberation Sans', sans-serif" font-size="10.4" text-anchor="middle" fill="#1a1a1a" stroke="#1a1a1a" stroke-width="0.13" >0</text>
<text transform="translate(458.28,167.20) scale(1.45,1)" font-family="'Liberation Sans', sans-serif" font-size="10.4" text-anchor="middle" fill="#1a1a1a" stroke="#1a1a1a" stroke-width="0.13" >100</text>
<text transform="translate(512.06,167.20) scale(1.45,1)" font-family="'Liberation Sans', sans-serif" font-size="10.4" text-anchor="middle" fill="#1a1a1a" stroke="#1a1a1a" stroke-width="0.13" >200</text>
<text transform="translate(565.84,167.20) scale(1.45,1)" font-family="'Liberation Sans', sans-serif" font-size="10.4" text-anchor="middle" fill="#1a1a1a" stroke="#1a1a1a" stroke-width="0.13" >300</text>
<text transform="translate(619.62,167.20) scale(1.45,1)" font-family="'Liberation Sans', sans-serif" font-size="10.4" text-anchor="middle" fill="#1a1a1a" stroke="#1a1a1a" stroke-width="0.13" >400</text>
<text transform="translate(673.40,167.20) scale(1.45,1)" font-family="'Liberation Sans', sans-serif" font-size="10.4" text-anchor="middle" fill="#1a1a1a" stroke="#1a1a1a" stroke-width="0.13" >500</text>
<text transform="translate(399.30,157.00) scale(1.45,1)" font-family="'Liberation Sans', sans-serif" font-size="10.4" text-anchor="end" fill="#1a1a1a" stroke="#1a1a1a" stroke-width="0.13" >0</text>
<text transform="translate(399.30,122.55) scale(1.45,1)" font-family="'Liberation Sans', sans-serif" font-size="10.4" text-anchor="end" fill="#1a1a1a" stroke="#1a1a1a" stroke-width="0.13" >0.5</text>
<text transform="translate(399.30,88.10) scale(1.45,1)" font-family="'Liberation Sans', sans-serif" font-size="10.4" text-anchor="end" fill="#1a1a1a" stroke="#1a1a1a" stroke-width="0.13" >1</text>
<text transform="translate(399.30,53.65) scale(1.45,1)" font-family="'Liberation Sans', sans-serif" font-size="10.4" text-anchor="end" fill="#1a1a1a" stroke="#1a1a1a" stroke-width="0.13" >1.5</text>
<text transform="translate(399.30,19.20) scale(1.45,1)" font-family="'Liberation Sans', sans-serif" font-size="10.4" text-anchor="end" fill="#1a1a1a" stroke="#1a1a1a" stroke-width="0.13" >2</text>
<path d="M406.90,6.10L414.40,11.90M414.40,6.10L406.90,11.90" stroke="#333" stroke-width="0.75" fill="none"/>
<text transform="translate(418.20,11.60) scale(1.22,1)" font-family="'Liberation Sans', sans-serif" font-size="10.4" text-anchor="start" fill="#1a1a1a" stroke="#1a1a1a" stroke-width="0.13" >10</text>
<text transform="translate(433.60,6.20) scale(1.4,1)" font-family="'Liberation Sans', sans-serif" font-size="8.528" text-anchor="start" fill="#1a1a1a" stroke="#1a1a1a" stroke-width="0.13" >4</text>
<text transform="translate(548.45,180.10) scale(1.38,1)" font-family="'Liberation Sans', sans-serif" font-size="12.0" text-anchor="middle" fill="#1a1a1a" stroke="#1a1a1a" stroke-width="0.13" >Time(years)</text>
<text transform="translate(373.00,83.40) rotate(-90) scale(1,1.38)" font-family="'Liberation Sans', sans-serif" font-size="12.0" text-anchor="middle" fill="#1a1a1a" stroke="#1a1a1a" stroke-width="0.13" >Infected</text>
<text transform="translate(527.70,210.50) scale(1.0,1)" font-family="'Liberation Serif', serif" font-size="19" text-anchor="middle" fill="#222" >(b)</text>
<text transform="translate(582.50,31.40) scale(1.38,1)" font-family="'Liberation Sans', sans-serif" font-size="9.8" text-anchor="start" fill="#1a1a1a" stroke="#1a1a1a" stroke-width="0.13" >Stochastic</text>
<text transform="translate(582.50,43.80) scale(1.38,1)" font-family="'Liberation Sans', sans-serif" font-size="9.8" text-anchor="start" fill="#1a1a1a" stroke="#1a1a1a" stroke-width="0.13" >Deterministic</text>
<text transform="translate(48.40,403.20) scale(1.45,1)" font-family="'Liberation Sans', sans-serif" font-size="10.4" text-anchor="middle" fill="#1a1a1a" stroke="#1a1a1a" stroke-width="0.13" >0</text>
<text transform="translate(101.24,403.20) scale(1.45,1)" font-family="'Liberation Sans', sans-serif" font-size="10.4" text-anchor="middle" fill="#1a1a1a" stroke="#1a1a1a" stroke-width="0.13" >100</text>
<text transform="translate(154.08,403.20) scale(1.45,1)" font-family="'Liberation Sans', sans-serif" font-size="10.4" text-anchor="middle" fill="#1a1a1a" stroke="#1a1a1a" stroke-width="0.13" >200</text>
<text transform="translate(206.92,403.20) scale(1.45,1)" font-family="'Liberation Sans', sans-serif" font-size="10.4" text-anchor="middle" fill="#1a1a1a" stroke="#1a1a1a" stroke-width="0.13" >300</text>
<text transform="translate(259.76,403.20) scale(1.45,1)" font-family="'Liberation Sans', sans-serif" font-size="10.4" text-anchor="middle" fill="#1a1a1a" stroke="#1a1a1a" stroke-width="0.13" >400</text>
<text transform="translate(312.60,403.20) scale(1.45,1)" font-family="'Liberation Sans', sans-serif" font-size="10.4" text-anchor="middle" fill="#1a1a1a" stroke="#1a1a1a" stroke-width="0.13" >500</text>
<text transform="translate(43.20,393.00) scale(1.45,1)" font-family="'Liberation Sans', sans-serif" font-size="10.4" text-anchor="end" fill="#1a1a1a" stroke="#1a1a1a" stroke-width="0.13" >0</text>
<text transform="translate(43.20,361.69) scale(1.45,1)" font-family="'Liberation Sans', sans-serif" font-size="10.4" text-anchor="end" fill="#1a1a1a" stroke="#1a1a1a" stroke-width="0.13" >200</text>
<text transform="translate(43.20,330.38) scale(1.45,1)" font-family="'Liberation Sans', sans-serif" font-size="10.4" text-anchor="end" fill="#1a1a1a" stroke="#1a1a1a" stroke-width="0.13" >400</text>
<text transform="translate(43.20,299.07) scale(1.45,1)" font-family="'Liberation Sans', sans-serif" font-size="10.4" text-anchor="end" fill="#1a1a1a" stroke="#1a1a1a" stroke-width="0.13" >600</text>
<text transform="translate(43.20,267.76) scale(1.45,1)" font-family="'Liberation Sans', sans-serif" font-size="10.4" text-anchor="end" fill="#1a1a1a" stroke="#1a1a1a" stroke-width="0.13" >800</text>
<text transform="translate(186.60,416.70) scale(1.38,1)" font-family="'Liberation Sans', sans-serif" font-size="12.0" text-anchor="middle" fill="#1a1a1a" stroke="#1a1a1a" stroke-width="0.13" >Time(years)</text>
<text transform="translate(12.00,317.85) rotate(-90) scale(1,1.38)" font-family="'Liberation Sans', sans-serif" font-size="12.0" text-anchor="middle" fill="#1a1a1a" stroke="#1a1a1a" stroke-width="0.13" >Chronic</text>
<text transform="translate(167.50,446.50) scale(1.0,1)" font-family="'Liberation Serif', serif" font-size="19" text-anchor="middle" fill="#222" >(c)</text>
<text transform="translate(221.90,264.30) scale(1.38,1)" font-family="'Liberation Sans', sans-serif" font-size="9.8" text-anchor="start" fill="#1a1a1a" stroke="#1a1a1a" stroke-width="0.13" >Stochastic</text>
<text transform="translate(221.90,276.70) scale(1.38,1)" font-family="'Liberation Sans', sans-serif" font-size="9.8" text-anchor="start" fill="#1a1a1a" stroke="#1a1a1a" stroke-width="0.13" >Deterministic</text>
<text transform="translate(407.20,403.20) scale(1.45,1)" font-family="'Liberation Sans', sans-serif" font-size="10.4" text-anchor="middle" fill="#1a1a1a" stroke="#1a1a1a" stroke-width="0.13" >0</text>
<text transform="translate(458.36,403.20) scale(1.45,1)" font-family="'Liberation Sans', sans-serif" font-size="10.4" text-anchor="middle" fill="#1a1a1a" stroke="#1a1a1a" stroke-width="0.13" >100</text>
<text transform="translate(509.52,403.20) scale(1.45,1)" font-family="'Liberation Sans', sans-serif" font-size="10.4" text-anchor="middle" fill="#1a1a1a" stroke="#1a1a1a" stroke-width="0.13" >200</text>
<text transform="translate(560.68,403.20) scale(1.45,1)" font-family="'Liberation Sans', sans-serif" font-size="10.4" text-anchor="middle" fill="#1a1a1a" stroke="#1a1a1a" stroke-width="0.13" >300</text>
<text transform="translate(611.84,403.20) scale(1.45,1)" font-family="'Liberation Sans', sans-serif" font-size="10.4" text-anchor="middle" fill="#1a1a1a" stroke="#1a1a1a" stroke-width="0.13" >400</text>
<text transform="translate(663.00,403.20) scale(1.45,1)" font-family="'Liberation Sans', sans-serif" font-size="10.4" text-anchor="middle" fill="#1a1a1a" stroke="#1a1a1a" stroke-width="0.13" >500</text>
<text transform="translate(402.00,393.00) scale(1.45,1)" font-family="'Liberation Sans', sans-serif" font-size="10.4" text-anchor="end" fill="#1a1a1a" stroke="#1a1a1a" stroke-width="0.13" >0</text>
<text transform="translate(402.00,364.82) scale(1.45,1)" font-family="'Liberation Sans', sans-serif" font-size="10.4" text-anchor="end" fill="#1a1a1a" stroke="#1a1a1a" stroke-width="0.13" >200</text>
<text transform="translate(402.00,336.64) scale(1.45,1)" font-family="'Liberation Sans', sans-serif" font-size="10.4" text-anchor="end" fill="#1a1a1a" stroke="#1a1a1a" stroke-width="0.13" >400</text>
<text transform="translate(402.00,308.46) scale(1.45,1)" font-family="'Liberation Sans', sans-serif" font-size="10.4" text-anchor="end" fill="#1a1a1a" stroke="#1a1a1a" stroke-width="0.13" >600</text>
<text transform="translate(402.00,280.28) scale(1.45,1)" font-family="'Liberation Sans', sans-serif" font-size="10.4" text-anchor="end" fill="#1a1a1a" stroke="#1a1a1a" stroke-width="0.13" >800</text>
<text transform="translate(402.00,252.10) scale(1.45,1)" font-family="'Liberation Sans', sans-serif" font-size="10.4" text-anchor="end" fill="#1a1a1a" stroke="#1a1a1a" stroke-width="0.13" >1000</text>
<text transform="translate(549.40,417.10) scale(1.38,1)" font-family="'Liberation Sans', sans-serif" font-size="12.0" text-anchor="middle" fill="#1a1a1a" stroke="#1a1a1a" stroke-width="0.13" >Time(years)</text>
<text transform="translate(363.20,317.85) rotate(-90) scale(1,1.38)" font-family="'Liberation Sans', sans-serif" font-size="12.0" text-anchor="middle" fill="#1a1a1a" stroke="#1a1a1a" stroke-width="0.13" >AIDS</text>
<text transform="translate(517.80,446.50) scale(1.0,1)" font-family="'Liberation Serif', serif" font-size="19" text-anchor="middle" fill="#222" >(d)</text>
<text transform="translate(572.20,264.30) scale(1.38,1)" font-family="'Liberation Sans', sans-serif" font-size="9.8" text-anchor="start" fill="#1a1a1a" stroke="#1a1a1a" stroke-width="0.13" >Stochastic</text>
<text transform="translate(572.20,276.70) scale(1.38,1)" font-family="'Liberation Sans', sans-serif" font-size="9.8" text-anchor="start" fill="#1a1a1a" stroke="#1a1a1a" stroke-width="0.13" >Deterministic</text>
</g>
</svg>
</body></html>
